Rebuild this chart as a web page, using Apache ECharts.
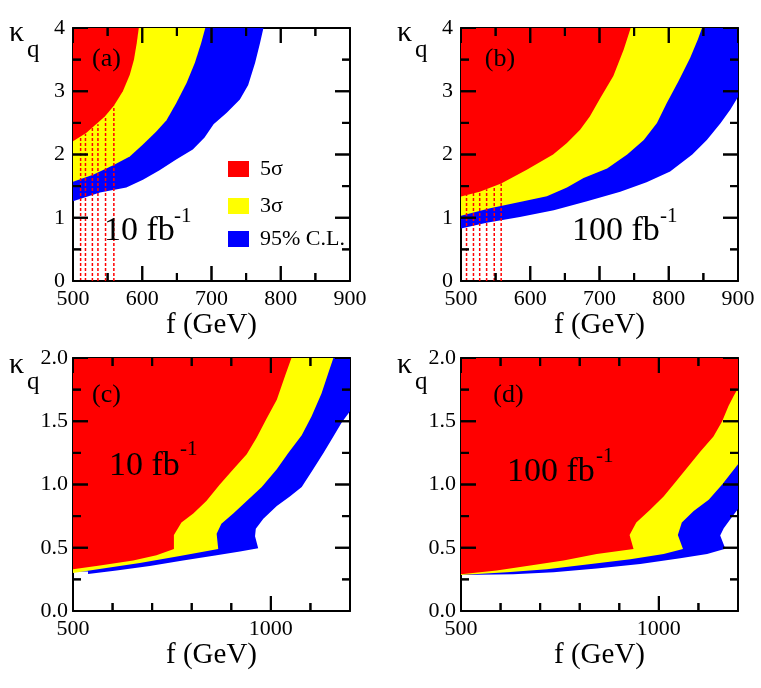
<!DOCTYPE html>
<html><head><meta charset="utf-8">
<script src="https://cdn.jsdelivr.net/npm/echarts@6/dist/echarts.min.js"></script>
<style>html,body{margin:0;padding:0;background:#fff}#c{width:761px;height:688px}</style>
</head><body><div id="c"></div>
<script>
// ---- axis ranges / tick steps / tick values ----
const fRangeTop = [500, 900];
const kRangeTop = [0, 4];
const fStepTop = 100;
const kStepTop = 1;
const fRangeBottom = [500, 1200];
const kRangeBottom = [0, 2];
const fStepBottom = 500;
const kStepBottom = 0.5;
const fMajorTop = [500, 600, 700, 800, 900];
const fMinorTop = [550, 650, 750, 850];
const kMajorTop = [0, 1, 2, 3, 4];
const kMinorTop = [0.5, 1.5, 2.5, 3.5];
const fMajorBottom = [500, 1000];
const fMinorBottom = [600, 700, 800, 900, 1100];
const kMajorBottom = [0, 0.5, 1.0, 1.5, 2.0];
const kMinorBottom = [0.25, 0.75, 1.25, 1.75];

// ---- contours [f (GeV), kappa_q] ----
// (a) 10 fb^-1
const a5 = [[500,2.21],[519,2.34],[546,2.60],[559,2.77],[572,3.00],[582,3.26],[588,3.50],[592,3.76],[595,4.0]];
const a3 = [[500,1.57],[529,1.68],[558,1.83],[582,1.97],[601,2.16],[620,2.36],[635,2.54],[649,2.81],[664,3.13],[676,3.45],[685,3.76],[691,4.0]];
const a95 = [[500,1.26],[539,1.40],[577,1.48],[601,1.60],[625,1.75],[649,1.92],[673,2.08],[690,2.27],[703,2.48],[722,2.66],[741,2.87],[753,3.10],[763,3.45],[770,3.76],[775,4.0]];
const aDotF = [511, 518, 528, 536, 547, 559];
const aDotTop = [2.28, 2.33, 2.42, 2.48, 2.61, 2.77];
// (b) 100 fb^-1
const b5 = [[500,1.335],[527,1.41],[558,1.54],[595,1.76],[633,2.0],[653,2.18],[672,2.39],[686,2.60],[701,2.89],[720,3.24],[735,3.66],[745,4.0]];
const b3 = [[500,1.03],[542,1.15],[590,1.26],[624,1.34],[653,1.48],[677,1.63],[711,1.78],[740,2.0],[764,2.23],[783,2.50],[797,2.81],[814,3.16],[831,3.53],[842,3.82],[848,4.0]];
const b95 = [[500,0.83],[537,0.92],[585,1.01],[634,1.12],[682,1.26],[730,1.41],[768,1.56],[802,1.73],[834,2.0],[855,2.23],[875,2.50],[889,2.71],[900,2.91]];
const bDotF = [508, 518, 527, 537, 548, 558];
const bDotTop = [1.36, 1.39, 1.41, 1.45, 1.50, 1.54];
// (c) 10 fb^-1
const c5 = [[500,0.33],[568,0.36],[652,0.40],[711,0.44],[755,0.49],[755,0.60],[774,0.70],[804,0.77],[837,0.87],[871,1.00],[905,1.12],[939,1.24],[964,1.37],[989,1.52],[1015,1.67],[1036,1.86],[1052,2.0]];
const c3 = [[500,0.30],[584,0.34],[669,0.38],[770,0.435],[867,0.49],[863,0.61],[875,0.69],[905,0.77],[939,0.87],[977,0.98],[1015,1.12],[1044,1.25],[1078,1.39],[1103,1.54],[1128,1.72],[1145,1.88],[1158,2.0]];
const c95 = [[538,0.313],[538,0.293],[610,0.32],[694,0.356],[778,0.40],[863,0.44],[922,0.47],[968,0.496],[960,0.59],[962,0.65],[981,0.73],[1015,0.83],[1048,0.905],[1078,0.98],[1107,1.12],[1133,1.25],[1158,1.38],[1179,1.49],[1200,1.58]];
// (d) 100 fb^-1
const d5 = [[500,0.29],[590,0.32],[675,0.36],[759,0.40],[843,0.45],[936,0.49],[926,0.60],[943,0.70],[978,0.80],[1012,0.905],[1037,1.0],[1071,1.13],[1105,1.26],[1138,1.38],[1160,1.50],[1176,1.62],[1189,1.70],[1200,1.76]];
const d3 = [[500,0.285],[616,0.306],[717,0.33],[818,0.367],[928,0.41],[1012,0.45],[1061,0.49],[1048,0.60],[1058,0.70],[1088,0.79],[1126,0.88],[1160,1.0],[1200,1.16]];
const d95 = [[500,0.285],[632,0.29],[734,0.306],[843,0.335],[953,0.372],[1054,0.417],[1122,0.451],[1168,0.493],[1155,0.596],[1164,0.654],[1181,0.728],[1200,0.807]];

const seriesNames = ['5σ', '3σ', '95% C.L.'];
const panelLabels = ['(a)', '(b)', '(c)', '(d)'];
const lumiLabels = ['10 fb', '100 fb', '10 fb', '100 fb'];
const lumiExp = '-1';
const xName = 'f (GeV)';

// ---- styling ----
const FONT = '"Liberation Serif", "Times New Roman", serif';
const RED = '#ff0000', YEL = '#ffff00', BLU = '#0000ff';
const MAJOR_LEN = 15, MINOR_LEN = 8, TICK_W = 2;
const grids = [
  {left: 73, top: 28, width: 277, height: 253},
  {left: 461, top: 28, width: 277, height: 253},
  {left: 73, top: 358, width: 277, height: 253},
  {left: 461, top: 358, width: 277, height: 253}
];
const AX = 2;

function closePoly(c, xr, yr) {
  const pts = c.slice();
  const last = c[c.length - 1];
  if (last[0] >= xr[1]) pts.push([xr[1], yr[1]]);
  pts.push([xr[0], yr[1]]);
  if (c[0][0] > xr[0]) pts.push([xr[0], c[0][1]]);
  return pts;
}

function polySeries(name, color, contour, idx, xr, yr) {
  const poly = closePoly(contour, xr, yr);
  return {
    type: 'custom', name: name, xAxisIndex: idx * AX, yAxisIndex: idx * AX,
    clip: true, silent: true, z: 1,
    itemStyle: {color: color},
    encode: {x: 0, y: 1},
    data: poly,
    renderItem: function (params, api) {
      if (params.dataIndex !== 0) return null;
      return {type: 'polygon', shape: {points: poly.map(function (p) { return api.coord(p); })},
              style: {fill: color, stroke: null}};
    }
  };
}

function dotSeries(fs, tops, idx) {
  return {
    type: 'custom', xAxisIndex: idx * AX, yAxisIndex: idx * AX, clip: true, silent: true, z: 2,
    encode: {x: 0, y: 1},
    data: fs.map(function (f, i) { return [f, tops[i]]; }),
    renderItem: function (params, api) {
      const top = api.coord([api.value(0), api.value(1)]);
      const bot = api.coord([api.value(0), 0]);
      return {type: 'line', shape: {x1: bot[0], y1: bot[1], x2: top[0], y2: top[1]},
              style: {stroke: RED, lineWidth: 1.5, lineDash: [3, 2]}};
    }
  };
}

// inward tick marks drawn as small filled rects, positioned through the axis scales
function tickSeries(idx, pts, vertical, sign, len) {
  return {
    type: 'custom', xAxisIndex: idx * AX, yAxisIndex: idx * AX, clip: false, silent: true, z: 4,
    encode: {x: 0, y: 1},
    itemStyle: {color: '#000000'},
    data: pts,
    renderItem: function (params, api) {
      const p = api.coord([api.value(0), api.value(1)]);
      let r;
      if (vertical) {
        r = {x: p[0] - TICK_W / 2, y: sign > 0 ? p[1] : p[1] - len, width: TICK_W, height: len};
      } else {
        r = {x: sign > 0 ? p[0] : p[0] - len, y: p[1] - TICK_W / 2, width: len, height: TICK_W};
      }
      return {type: 'rect', shape: r, style: {fill: '#000000'}};
    }
  };
}
function tickPoints(fMaj, fMin, kMaj, kMin, xr, yr) {
  const atK = function (vals, k) { return vals.map(function (v) { return [v, k]; }); };
  const atF = function (vals, f) { return vals.map(function (v) { return [f, v]; }); };
  return [
    [atK(fMaj, yr[0]), true, -1, MAJOR_LEN], [atK(fMin, yr[0]), true, -1, MINOR_LEN],
    [atK(fMaj, yr[1]), true, 1, MAJOR_LEN], [atK(fMin, yr[1]), true, 1, MINOR_LEN],
    [atF(kMaj, xr[0]), false, 1, MAJOR_LEN], [atF(kMin, xr[0]), false, 1, MINOR_LEN],
    [atF(kMaj, xr[1]), false, -1, MAJOR_LEN], [atF(kMin, xr[1]), false, -1, MINOR_LEN]
  ];
}

function lineCfg() { return {show: true, onZero: false, lineStyle: {color: '#000', width: 2}}; }

function xAxes(idx, xr, step) {
  const common = {gridIndex: idx, type: 'value', min: xr[0], max: xr[1], interval: step,
                  splitLine: {show: false}, axisTick: {show: false}, minorTick: {show: false}, axisLine: lineCfg()};
  const bottom = Object.assign({}, common, {
    position: 'bottom',
    axisLabel: {show: true, margin: 7, fontSize: 22, fontFamily: FONT, color: '#000',
                formatter: function (v) { return String(v); },
                showMaxLabel: xr[1] % step === 0, showMinLabel: true},
    name: xName, nameLocation: 'middle', nameGap: 28,
    nameTextStyle: {fontSize: 29, fontFamily: FONT, color: '#000'}
  });
  const top = Object.assign({}, common, {position: 'top', axisLabel: {show: false}});
  return [bottom, top];
}

function yAxes(idx, yr, step, fmt, margin) {
  const common = {gridIndex: idx, type: 'value', min: yr[0], max: yr[1], interval: step,
                  splitLine: {show: false}, axisTick: {show: false}, minorTick: {show: false}, axisLine: lineCfg()};
  const left = Object.assign({}, common, {
    position: 'left',
    axisLabel: {show: true, margin: margin, fontSize: 22, fontFamily: FONT, color: '#000', formatter: fmt,
                showMinLabel: true, showMaxLabel: true}
  });
  const right = Object.assign({}, common, {position: 'right', axisLabel: {show: false}});
  return [left, right];
}

const xAxis = [].concat(
  xAxes(0, fRangeTop, fStepTop), xAxes(1, fRangeTop, fStepTop),
  xAxes(2, fRangeBottom, fStepBottom), xAxes(3, fRangeBottom, fStepBottom));
const fmtInt = function (v) { return String(Math.round(v)); };
const fmt1 = function (v) { return v.toFixed(1); };
const yAxis = [].concat(
  yAxes(0, kRangeTop, kStepTop, fmtInt, 8), yAxes(1, kRangeTop, kStepTop, fmtInt, 8),
  yAxes(2, kRangeBottom, kStepBottom, fmt1, 5), yAxes(3, kRangeBottom, kStepBottom, fmt1, 5));

const panels = [
  {c: [a5, a3, a95], xr: fRangeTop, yr: kRangeTop, dots: [aDotF, aDotTop],
   t: [fMajorTop, fMinorTop, kMajorTop, kMinorTop]},
  {c: [b5, b3, b95], xr: fRangeTop, yr: kRangeTop, dots: [bDotF, bDotTop],
   t: [fMajorTop, fMinorTop, kMajorTop, kMinorTop]},
  {c: [c5, c3, c95], xr: fRangeBottom, yr: kRangeBottom,
   t: [fMajorBottom, fMinorBottom, kMajorBottom, kMinorBottom]},
  {c: [d5, d3, d95], xr: fRangeBottom, yr: kRangeBottom,
   t: [fMajorBottom, fMinorBottom, kMajorBottom, kMinorBottom]}
];
const series = [];
const firstSeriesOfPanel = [];
panels.forEach(function (p, i) {
  firstSeriesOfPanel.push(series.length);
  series.push(polySeries(seriesNames[2], BLU, p.c[2], i, p.xr, p.yr));
  series.push(polySeries(seriesNames[1], YEL, p.c[1], i, p.xr, p.yr));
  series.push(polySeries(seriesNames[0], RED, p.c[0], i, p.xr, p.yr));
  if (p.dots) series.push(dotSeries(p.dots[0], p.dots[1], i));
  tickPoints(p.t[0], p.t[1], p.t[2], p.t[3], p.xr, p.yr).forEach(function (t) {
    series.push(tickSeries(i, t[0], t[1], t[2], t[3]));
  });
});

// legend (panel a), one entry per legend box
const legendTops = [158, 195, 228];
const legend = seriesNames.map(function (n, i) {
  return {
    data: [n], orient: 'vertical', left: 228, top: legendTops[i], selectedMode: false,
    icon: 'rect', itemWidth: 21, itemHeight: 16, padding: 0,
    itemStyle: {borderWidth: 0},
    textStyle: {fontSize: 22, fontFamily: FONT, color: '#000', lineHeight: 16, padding: [0, 0, 0, 6]}
  };
});

// texts
const txt = function (s, x, y, size, align) {
  return {type: 'text', x: x, y: y, z: 100, silent: true,
          style: {text: s, font: size + 'px ' + FONT, fill: '#000', align: align || 'left', verticalAlign: 'middle'}};
};
const kx = [9, 397, 9, 397], ky = [33, 33, 365, 365];
const graphic = [];
for (let i = 0; i < 4; i++) {
  graphic.push(txt('κ', kx[i], ky[i], 30));
  graphic.push(txt('q', kx[i] + 18, ky[i] + 17, 25));
}
const plx = [106.5, 500, 106.5, 508.5], ply = [59, 59, 395, 395];
const lx = [104, 572, 109, 507], ly = [231.5, 231.5, 466, 472];
const sx = [174, 660, 180, 596], sy = [216, 216, 449, 456];
for (let i = 0; i < 4; i++) {
  graphic.push(txt(panelLabels[i], plx[i], ply[i], 26, 'center'));
  graphic.push(txt(lumiLabels[i], lx[i], ly[i], 34));
  graphic.push(txt(lumiExp, sx[i], sy[i], 21));
}

const chart = echarts.init(document.getElementById('c'), null, {renderer: 'canvas'});
chart.setOption({
  animation: false,
  backgroundColor: '#fff',
  grid: grids,
  xAxis: xAxis,
  yAxis: yAxis,
  legend: legend,
  series: series
});

// second pass: tick marks as graphic lines, converted through each panel's axes
const tickGraphics = [];
panels.forEach(function (p, i) {
  const si = firstSeriesOfPanel[i];
  tickPoints(p.t[0], p.t[1], p.t[2], p.t[3], p.xr, p.yr).forEach(function (t) {
    t[0].forEach(function (pt) {
      const px = chart.convertToPixel({seriesIndex: si}, pt);
      if (!px) return;
      const x2 = t[1] ? px[0] : px[0] + t[2] * t[3];
      const y2 = t[1] ? px[1] + t[2] * t[3] : px[1];
      tickGraphics.push({type: 'line', z: 90, silent: true,
        shape: {x1: px[0], y1: px[1], x2: x2, y2: y2},
        style: {stroke: '#000000', lineWidth: TICK_W}});
    });
  });
});
chart.setOption({graphic: graphic.concat(tickGraphics)});
</script>
</body></html>
